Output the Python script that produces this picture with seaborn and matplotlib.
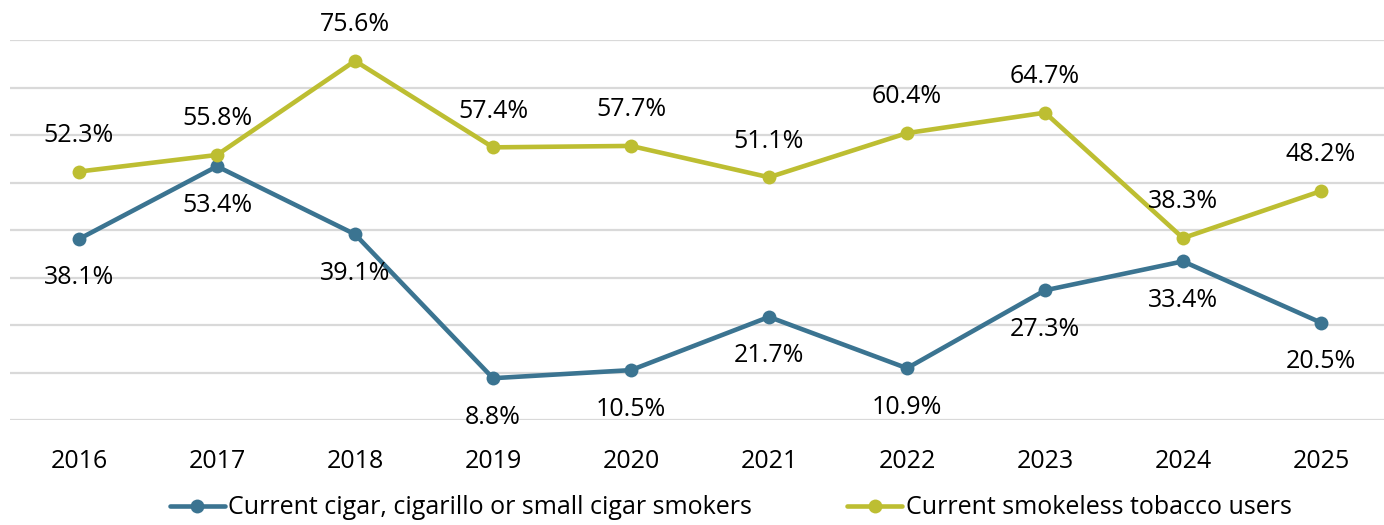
import matplotlib
matplotlib.use('Agg')
import matplotlib.pyplot as plt
import pandas as pd
import seaborn as sns

# data
years = [2016, 2017, 2018, 2019, 2020, 2021, 2022, 2023, 2024, 2025]
cigar = [38.1, 53.4, 39.1, 8.8, 10.5, 21.7, 10.9, 27.3, 33.4, 20.5]
smokeless = [52.3, 55.8, 75.6, 57.4, 57.7, 51.1, 60.4, 64.7, 38.3, 48.2]
series_names = ['Current cigar, cigarillo or small cigar smokers',
                'Current smokeless tobacco users']
colors = ['#3B7491', '#BDBE32']

df = pd.DataFrame({
    'Year': years * 2,
    'Value': cigar + smokeless,
    'Series': [series_names[0]] * len(years) + [series_names[1]] * len(years),
})

sns.set_theme(style='white')
plt.rcParams['font.family'] = ['Open Sans', 'DejaVu Sans']
plt.rcParams['text.color'] = 'black'
fs = 18

fig = plt.figure(figsize=(13.84, 5.25), dpi=100)
ax = fig.add_axes([10 / 1384, 0.2, 1 - 10 / 1384, 1 - 0.2 - 40 / 525])

sns.lineplot(data=df, x='Year', y='Value', hue='Series', palette=colors,
             marker='o', markersize=10, markeredgewidth=0, linewidth=3.3,
             ax=ax, legend=True)

# data labels: cigar below, smokeless above
for x, y in zip(years, cigar):
    ax.annotate(f'{y:.1f}%', (x, y), xytext=(0, -28), textcoords='offset points',
                ha='center', va='center', fontsize=fs, color='black')
for x, y in zip(years, smokeless):
    ax.annotate(f'{y:.1f}%', (x, y), xytext=(0, 26), textcoords='offset points',
                ha='center', va='center', fontsize=fs, color='black')

ax.set_ylim(0, 80)
ax.set_yticks(range(0, 81, 10))
ax.set_yticklabels([])
ax.set_xlim(2015.5, 2015.5 + (1374 / 138))
ax.set_xticks(years)
ax.set_xticklabels([str(y) for y in years], fontsize=fs, color='black')
ax.tick_params(axis='x', length=0, pad=21)
ax.tick_params(axis='y', length=0)
ax.grid(axis='y', color='#D9D9D9', linewidth=1.6)
ax.set_axisbelow(True)
ax.set_xlabel('')
ax.set_ylabel('')
for spine in ax.spines.values():
    spine.set_visible(False)

handles, labels = ax.get_legend_handles_labels()
ax.legend_.remove()
leg = fig.legend(handles, labels, loc='center', bbox_to_anchor=(0.528, 17 / 525),
                 ncol=2, frameon=False, fontsize=fs, handlelength=2.2,
                 handletextpad=0.15, columnspacing=3.8)
for t in leg.get_texts():
    t.set_color('black')

fig.savefig('out.png', dpi=100)
